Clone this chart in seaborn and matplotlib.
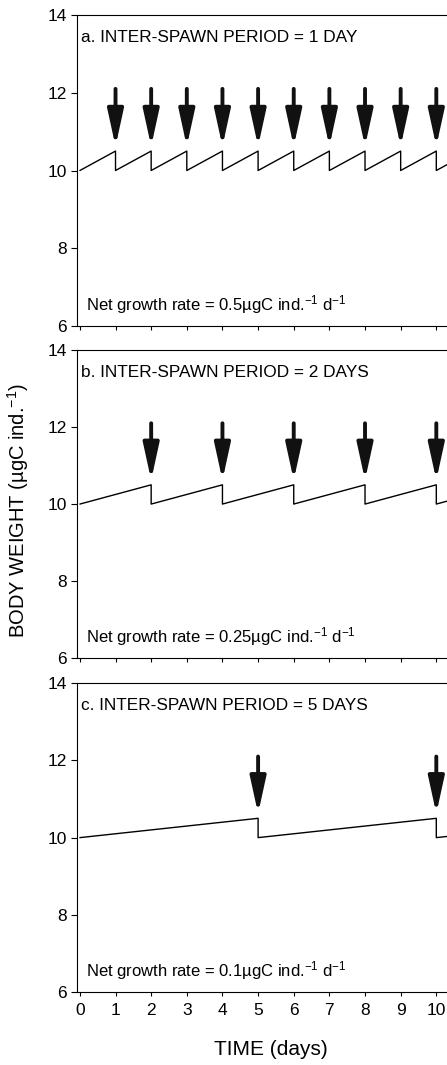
import matplotlib
matplotlib.use("Agg")
import matplotlib.pyplot as plt
import seaborn as sns

# ---- data ----
time_a = [0, 1, 1, 2, 2, 3, 3, 4, 4, 5, 5, 6, 6, 7, 7, 8, 8, 9, 9, 10, 10, 10.3]
weight_a = [10, 10.5, 10, 10.5, 10, 10.5, 10, 10.5, 10, 10.5, 10, 10.5, 10, 10.5, 10,
            10.5, 10, 10.5, 10, 10.5, 10, 10.15]
spawn_a = [1, 2, 3, 4, 5, 6, 7, 8, 9, 10]

time_b = [0, 2, 2, 4, 4, 6, 6, 8, 8, 10, 10, 10.3]
weight_b = [10, 10.5, 10, 10.5, 10, 10.5, 10, 10.5, 10, 10.5, 10, 10.075]
spawn_b = [2, 4, 6, 8, 10]

time_c = [0, 5, 5, 10, 10, 10.3]
weight_c = [10, 10.5, 10, 10.5, 10, 10.03]
spawn_c = [5, 10]

titles = ["a. INTER-SPAWN PERIOD = 1 DAY",
          "b. INTER-SPAWN PERIOD = 2 DAYS",
          "c. INTER-SPAWN PERIOD = 5 DAYS"]
rates = ["0.5", "0.25", "0.1"]
y_ticks = [6, 8, 10, 12, 14]
x_ticks = [0, 1, 2, 3, 4, 5, 6, 7, 8, 9, 10]

# ---- style ----
sns.set_style("ticks")
plt.rcParams["font.family"] = ["Liberation Sans", "DejaVu Sans"]
plt.rcParams["mathtext.fontset"] = "custom"
plt.rcParams["mathtext.rm"] = "Liberation Sans"
plt.rcParams["mathtext.it"] = "Liberation Sans:italic"
plt.rcParams["text.color"] = "black"
plt.rcParams["xtick.color"] = "black"
plt.rcParams["ytick.color"] = "black"
plt.rcParams["axes.labelcolor"] = "black"

fig = plt.figure(figsize=(4.47, 10.65), dpi=100)
left, width = 0.172, 0.828
boxes = [(0.6939, 0.292), (0.3822, 0.289), (0.0685, 0.290)]
series = [(time_a, weight_a, spawn_a), (time_b, weight_b, spawn_b), (time_c, weight_c, spawn_c)]

for i, ((bottom, height), (tx, wy, sp)) in enumerate(zip(boxes, series)):
    ax = fig.add_axes([left, bottom, width, height])
    sns.lineplot(x=tx, y=wy, ax=ax, sort=False, estimator=None, color="black", lw=1.0)
    for t in sp:
        ax.annotate("", xy=(t, 10.62), xytext=(t, 12.1),
                    arrowprops=dict(arrowstyle="-|>,head_length=1.1,head_width=0.24",
                                    lw=2.8, color="#111111", shrinkA=0, shrinkB=0,
                                    mutation_scale=20))
    ax.set_xlim(-0.084, 10.3)
    ax.set_ylim(6, 14)
    ax.set_yticks(y_ticks)
    ax.set_xticks(x_ticks)
    ax.tick_params(axis="y", direction="out", length=4, width=0.8, labelsize=12.5, pad=3)
    ax.tick_params(axis="x", direction="out", length=3, width=0.8, labelsize=12.5, pad=5)
    if i < 2:
        ax.set_xticklabels([])
    for s in ["left", "bottom", "top"]:
        ax.spines[s].set_linewidth(0.8)
        ax.spines[s].set_color("black")
    ax.spines["right"].set_visible(False)
    ax.set_xlabel("")
    ax.set_ylabel("")
    ax.text(0.011, 0.914, titles[i], transform=ax.transAxes, fontsize=12.4,
            ha="left", va="baseline")
    ax.text(0.024, 0.05, "Net growth rate = " + rates[i] + "µgC ind.$^{-1}$ d$^{-1}$",
            transform=ax.transAxes, fontsize=12, ha="left", va="baseline")

fig.text(0.040, 0.521, "BODY WEIGHT (µgC ind.$^{-1}$)", rotation=90, fontsize=14.5,
         ha="center", va="center")
fig.text(0.606, 0.015, "TIME (days)", fontsize=15, ha="center", va="center")

fig.savefig("out.png", dpi=100)
